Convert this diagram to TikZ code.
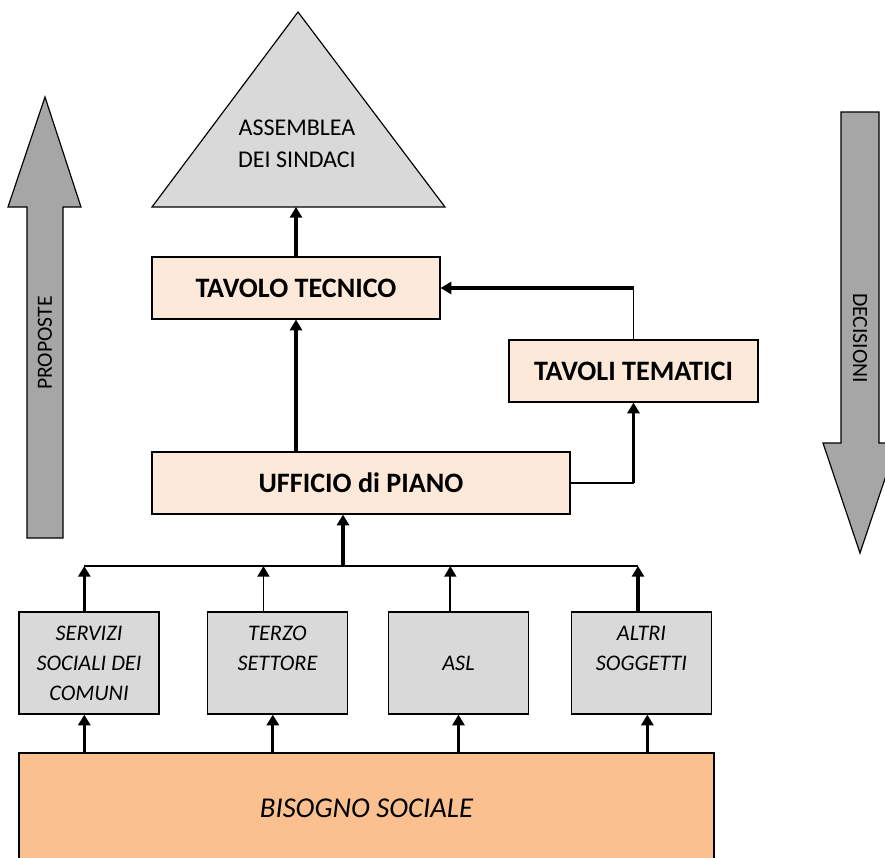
\documentclass[tikz,border=0pt]{standalone}
\usepackage{fontspec}
\setmainfont{Carlito}
\usetikzlibrary{shapes.geometric, arrows.meta}
\definecolor{peach}{HTML}{FDE9D9}
\definecolor{lightgrey}{HTML}{D9D9D9}
\definecolor{salmon}{HTML}{FAC090}
\definecolor{arrowgrey}{HTML}{A6A6A6}
\tikzstyle{tavolo} = [rectangle, minimum height=1.86cm, text centered, draw=black, line width=1pt, fill=peach, font=\fontsize{24}{28}\selectfont\bfseries]
\tikzstyle{soggetto} = [rectangle, minimum width=4.2cm, minimum height=3.06cm, align=center, draw=black, line width=1pt, fill=lightgrey, font=\fontsize{19}{25.6}\selectfont\itshape]
\tikzstyle{bisogno} = [rectangle, minimum width=20.85cm, minimum height=3.3cm, text centered, draw=black, line width=1pt, fill=salmon, font=\fontsize{24.5}{28}\selectfont\itshape]
\tikzstyle{piramide} = [draw=black, line width=1pt, fill=lightgrey]
\tikzstyle{bigarrow} = [draw=black, line width=1pt, fill=arrowgrey]
\tikzstyle{label} = [font=\fontsize{18.5}{22}\selectfont]
\tikzstyle{arrow} = [line width=2.6pt, -{Triangle[length=3.2mm, width=3.6mm]}]
\tikzstyle{thinarrow} = [line width=1.5pt, -{Triangle[length=3.2mm, width=3.6mm]}]
\tikzstyle{line} = [line width=1.5pt]

\begin{document}
\begin{tikzpicture}[x=0.03cm, y=-0.03cm]
           \clip (0,0) rectangle (885,857);
           % frecce laterali
           \draw [bigarrow] (27,538) -- (27,207) -- (8,207) -- (45,97) -- (81,207) -- (63,207) -- (63,538) -- cycle;
           \node (proposte) [label, rotate=90] at (45,343) {PROPOSTE};
           \draw [bigarrow] (841,112) -- (879,112) -- (879,443) -- (897,443) -- (860,553) -- (823,443) -- (841,443) -- cycle;
           \node (decisioni) [label, rotate=-90] at (860,338) {DECISIONI};

           % assemblea
           \draw [piramide] (298,12) -- (445,207) -- (152,207) -- cycle;
           \coordinate (base) at (298,207);
           \node (assemblea) [align=center, font=\fontsize{20.5}{27.3}\selectfont] at (297,144) {ASSEMBLEA\\DEI SINDACI};

           \node (tecnico) [tavolo, minimum width=8.64cm] at (296,288) {TAVOLO TECNICO};
           \node (tematici) [tavolo, minimum width=7.47cm] at (633.5,371) {TAVOLI TEMATICI};
           \node (ufficio) [tavolo, minimum width=12.54cm] at (361,483) {UFFICIO di PIANO};

           \node (servizi) [soggetto] at (89,663) {SERVIZI\\SOCIALI DEI\\COMUNI};
           \node (terzo) [soggetto] at (277.5,663) {TERZO\\SETTORE\\\mbox{}};
           \node (asl) [soggetto] at (458.5,663) {ASL};
           \node (altri) [soggetto] at (641.5,663) {ALTRI\\SOGGETTI\\\mbox{}};

           \node (bisogno) [bisogno] at (366.5,808) {BISOGNO SOCIALE};
           \coordinate (bus) at (343,566);
           \coordinate (gomito1) at (tematici.south |- ufficio.east);
           \coordinate (gomito2) at (tematici.north |- tecnico.east);

           \draw [arrow] (tecnico.north) -- (tecnico.north |- base);
           \draw [arrow] (tecnico.south |- ufficio.north) -- (tecnico.south);
           \draw [line] (tematici.north) -- (gomito2);
           \draw [arrow] (gomito2) -- (tecnico.east);
           \draw [line] (ufficio.east) -- (gomito1);
           \draw [arrow] (gomito1) -- (tematici.south);
           \draw [arrow] (bus) -- (bus |- ufficio.south);
           \draw [line] ([xshift=-4pt]servizi.north |- bus) -- ([xshift=-3pt]altri.north |- bus);

           \draw [arrow] ([xshift=-4pt]servizi.north) -- ([xshift=-4pt]servizi.north |- bus);
           \draw [thinarrow] ([xshift=-12pt]terzo.north) -- ([xshift=-12pt]terzo.north |- bus);
           \draw [thinarrow] ([xshift=-7pt]asl.north) -- ([xshift=-7pt]asl.north |- bus);
           \draw [arrow] ([xshift=-3pt]altri.north) -- ([xshift=-3pt]altri.north |- bus);

           \draw [arrow] ([xshift=-4pt]servizi.south |- bisogno.north) -- ([xshift=-4pt]servizi.south);
           \draw [arrow] ([xshift=-4pt]terzo.south |- bisogno.north) -- ([xshift=-4pt]terzo.south);
           \draw [arrow] (asl.south |- bisogno.north) -- (asl.south);
           \draw [arrow] ([xshift=5pt]altri.south |- bisogno.north) -- ([xshift=5pt]altri.south);
        \end{tikzpicture}
\end{document}
